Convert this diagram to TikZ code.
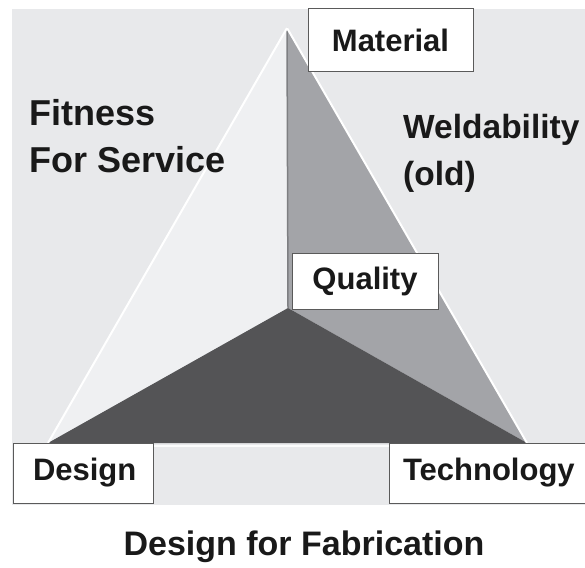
\documentclass[tikz,border=0pt]{standalone}
\usepackage{fontspec}
\setmainfont{Liberation Sans}
\definecolor{bgc}{HTML}{E8E9EB}
\definecolor{leftc}{HTML}{EFF0F2}
\definecolor{rightc}{HTML}{A3A4A8}
\definecolor{darkc}{HTML}{545456}
\definecolor{boxc}{HTML}{5A5A5A}
\definecolor{edgec}{HTML}{7E7F82}
\begin{document}
\begin{tikzpicture}[x=1pt,y=-1pt,
  labelbox/.style={draw=boxc,line width=1pt,fill=white,inner sep=0pt,
    font=\fontsize{31}{36}\selectfont\bfseries,text=black!90},
  bigtext/.style={inner sep=0pt,align=left,anchor=north west,
    font=\fontsize{36}{47}\selectfont\bfseries,text=black!90}]
\useasboundingbox (0,0) rectangle (585,567);
\fill[white] (0,0) rectangle (585,567);
\fill[bgc] (12,9) rectangle (585,505);
% vertices
\coordinate (A) at (287,28);
\coordinate (D) at (48,443);
\coordinate (T) at (527,443);
\coordinate (Q) at (288,308);
% faces
\fill[leftc] (A) -- (D) -- (Q) -- cycle;
\fill[rightc] (A) -- (Q) -- (T) -- cycle;
\fill[darkc] (D) -- (Q) -- (T) -- cycle;
\draw[edgec,line width=1.5pt] (A) -- (Q);
\draw[white,line width=2pt] (A) -- (D);
\draw[white,line width=2pt] (A) -- (T);
\draw[white!85!bgc,line width=2pt] (153,446) -- (389,446);
% labels
\node[labelbox,minimum width=165pt,minimum height=63pt] (mat) at (390.5,40.5) {Material};
\node[labelbox,minimum width=146pt,minimum height=56pt] (qual) at (365,281) {Quality};
\node[labelbox,minimum width=140pt,minimum height=60pt,text width=100pt,align=left] (des) at (83,473) {Design};
\node[labelbox,minimum width=203pt,minimum height=60pt,text width=175pt,align=left] (tech) at (490.5,473) {Technology};
\node[bigtext] (ffs) at (29,99) {Fitness\\For Service};
\node[bigtext,font=\fontsize{33.5}{47}\selectfont\bfseries] (weld) at (403,114) {Weldability\\(old)};
\node[inner sep=0pt,anchor=base,font=\fontsize{34}{40}\selectfont\bfseries,text=black!90] (dff) at (304,555) {Design for Fabrication};
\end{tikzpicture}
\end{document}
